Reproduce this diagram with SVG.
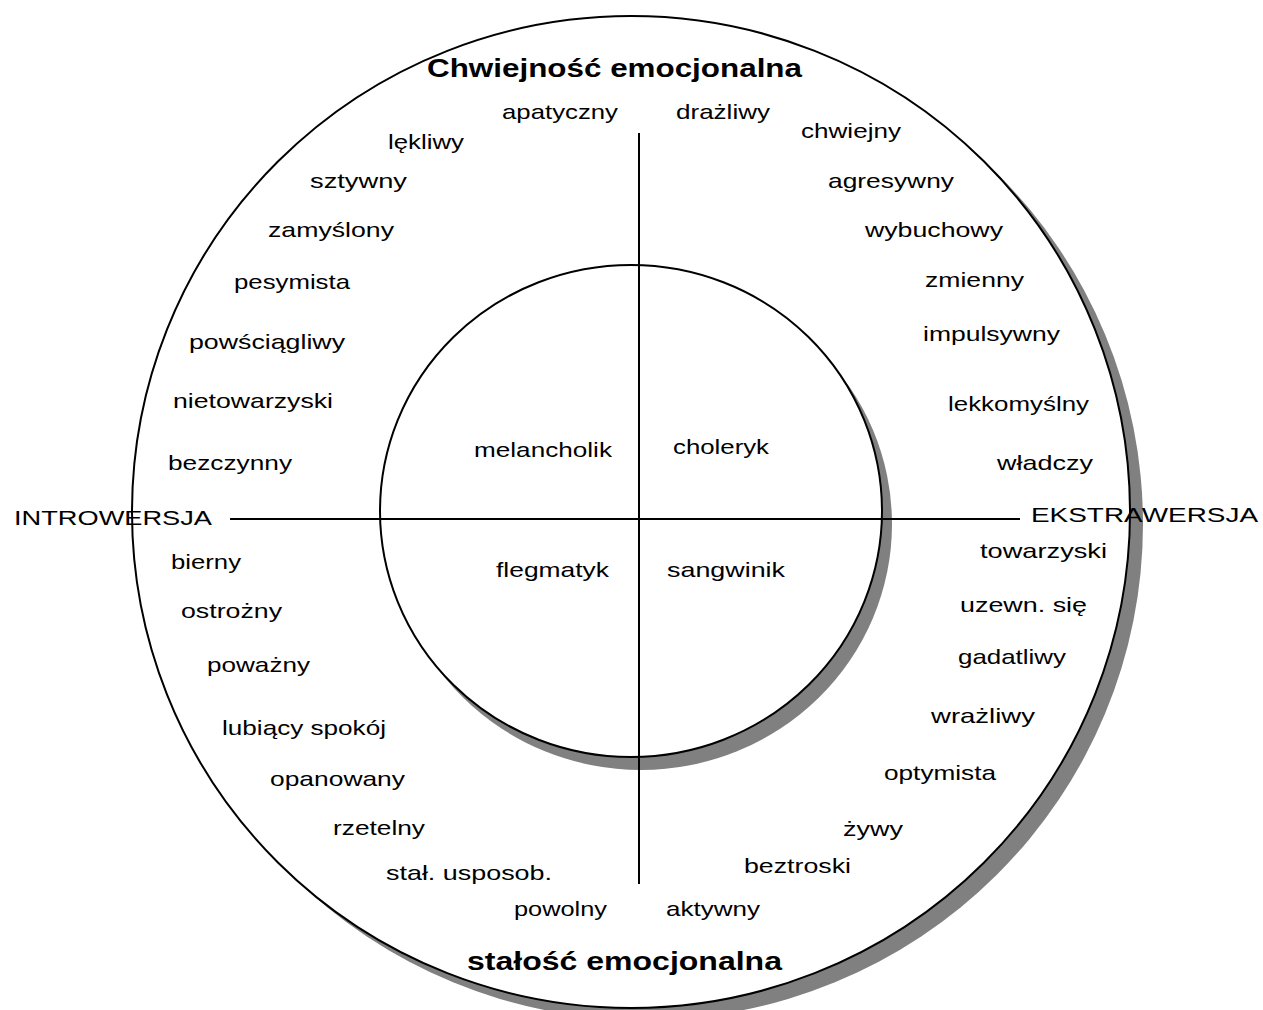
<svg xmlns="http://www.w3.org/2000/svg" width="1263" height="1010" viewBox="0 0 1263 1010">
<style>
.sh{fill:#808080;stroke:none}
.c{fill:#fff;stroke:#000;stroke-width:2}
.ln{stroke:#000;stroke-width:2;fill:none}
text{font-family:"Liberation Sans",Arial,sans-serif;font-size:21px;fill:#000}
.t{font-size:26px;font-weight:bold}
</style>
<rect width="1263" height="1010" fill="#fff"/>
<g id="outer-circle">
<ellipse class="sh" cx="644" cy="524" rx="499" ry="496"/>
<ellipse class="c" cx="631" cy="512" rx="499" ry="496"/>
</g>
<g id="inner-circle">
<ellipse class="sh" cx="641" cy="524" rx="251" ry="246"/>
<ellipse class="c" cx="631" cy="511" rx="251" ry="246"/>
</g>
<g id="connectors">
<line class="ln" x1="230" y1="519" x2="1020" y2="519"/>
<line class="ln" x1="639" y1="133" x2="639" y2="884"/>
</g>
<g id="titles">
<text class="t" x="427" y="77" textLength="375" lengthAdjust="spacingAndGlyphs">Chwiejność emocjonalna</text>
<text class="t" x="467" y="970" textLength="315" lengthAdjust="spacingAndGlyphs">stałość emocjonalna</text>
<text x="14" y="525" textLength="198" lengthAdjust="spacingAndGlyphs">INTROWERSJA</text>
<text x="1031" y="522" textLength="227" lengthAdjust="spacingAndGlyphs">EKSTRAWERSJA</text>
</g>
<g id="temperaments">
<text x="474" y="457" textLength="138" lengthAdjust="spacingAndGlyphs">melancholik</text>
<text x="673" y="454" textLength="96" lengthAdjust="spacingAndGlyphs">choleryk</text>
<text x="496" y="577" textLength="113" lengthAdjust="spacingAndGlyphs">flegmatyk</text>
<text x="667" y="577" textLength="118" lengthAdjust="spacingAndGlyphs">sangwinik</text>
</g>
<g id="traits">
<text x="502" y="119" textLength="116" lengthAdjust="spacingAndGlyphs">apatyczny</text>
<text x="676" y="119" textLength="94" lengthAdjust="spacingAndGlyphs">drażliwy</text>
<text x="388" y="149" textLength="76" lengthAdjust="spacingAndGlyphs">lękliwy</text>
<text x="801" y="138" textLength="100" lengthAdjust="spacingAndGlyphs">chwiejny</text>
<text x="310" y="188" textLength="97" lengthAdjust="spacingAndGlyphs">sztywny</text>
<text x="828" y="188" textLength="126" lengthAdjust="spacingAndGlyphs">agresywny</text>
<text x="268" y="237" textLength="126" lengthAdjust="spacingAndGlyphs">zamyślony</text>
<text x="865" y="237" textLength="138" lengthAdjust="spacingAndGlyphs">wybuchowy</text>
<text x="234" y="289" textLength="116" lengthAdjust="spacingAndGlyphs">pesymista</text>
<text x="925" y="287" textLength="99" lengthAdjust="spacingAndGlyphs">zmienny</text>
<text x="189" y="349" textLength="156" lengthAdjust="spacingAndGlyphs">powściągliwy</text>
<text x="923" y="341" textLength="137" lengthAdjust="spacingAndGlyphs">impulsywny</text>
<text x="173" y="408" textLength="160" lengthAdjust="spacingAndGlyphs">nietowarzyski</text>
<text x="948" y="411" textLength="141" lengthAdjust="spacingAndGlyphs">lekkomyślny</text>
<text x="168" y="470" textLength="124" lengthAdjust="spacingAndGlyphs">bezczynny</text>
<text x="997" y="470" textLength="96" lengthAdjust="spacingAndGlyphs">władczy</text>
<text x="171" y="569" textLength="70" lengthAdjust="spacingAndGlyphs">bierny</text>
<text x="980" y="558" textLength="127" lengthAdjust="spacingAndGlyphs">towarzyski</text>
<text x="181" y="618" textLength="101" lengthAdjust="spacingAndGlyphs">ostrożny</text>
<text x="960" y="612" textLength="127" lengthAdjust="spacingAndGlyphs">uzewn. się</text>
<text x="207" y="672" textLength="103" lengthAdjust="spacingAndGlyphs">poważny</text>
<text x="958" y="664" textLength="108" lengthAdjust="spacingAndGlyphs">gadatliwy</text>
<text x="222" y="735" textLength="164" lengthAdjust="spacingAndGlyphs">lubiący spokój</text>
<text x="931" y="723" textLength="104" lengthAdjust="spacingAndGlyphs">wrażliwy</text>
<text x="270" y="786" textLength="135" lengthAdjust="spacingAndGlyphs">opanowany</text>
<text x="884" y="780" textLength="112" lengthAdjust="spacingAndGlyphs">optymista</text>
<text x="333" y="835" textLength="92" lengthAdjust="spacingAndGlyphs">rzetelny</text>
<text x="843" y="836" textLength="60" lengthAdjust="spacingAndGlyphs">żywy</text>
<text x="386" y="880" textLength="166" lengthAdjust="spacingAndGlyphs">stał. usposob.</text>
<text x="744" y="873" textLength="107" lengthAdjust="spacingAndGlyphs">beztroski</text>
<text x="514" y="916" textLength="93" lengthAdjust="spacingAndGlyphs">powolny</text>
<text x="666" y="916" textLength="94" lengthAdjust="spacingAndGlyphs">aktywny</text>
</g>
</svg>
